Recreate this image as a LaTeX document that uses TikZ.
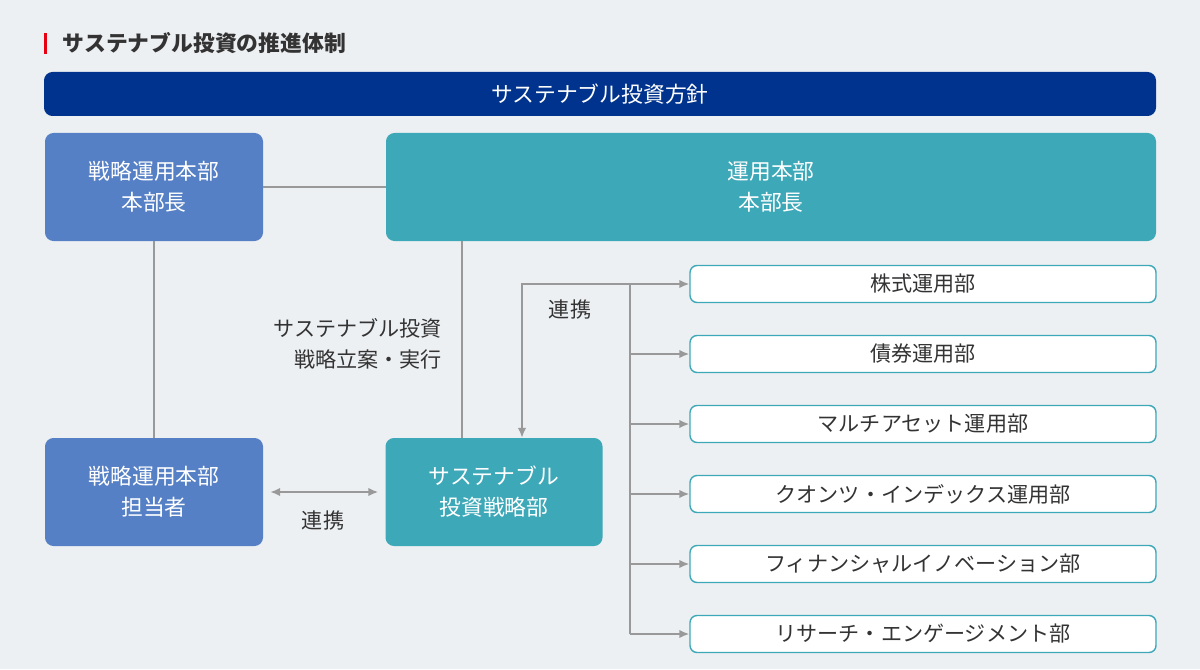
\documentclass[tikz,border=0pt]{standalone}
\usepackage{fontspec}
\setmainfont{Noto Sans CJK JP}
\usetikzlibrary{arrows.meta}
\definecolor{bg}{HTML}{EDF0F3}
\definecolor{navy}{HTML}{00338D}
\definecolor{blu}{HTML}{5680C5}
\definecolor{teal}{HTML}{3DA8B8}
\definecolor{ln}{HTML}{999999}
\definecolor{rd}{HTML}{E60012}
\definecolor{txt}{HTML}{333333}
\begin{document}
\begin{tikzpicture}[x=0.025cm,y=-0.025cm,
 box/.style={draw=none,rounded corners=6pt,text=white,align=center,font=\fontsize{15.5pt}{22pt}\selectfont},
 wbox/.style={draw=teal,line width=1pt,fill=white,rounded corners=5pt,text=txt,font=\fontsize{15pt}{16pt}\selectfont},
 con/.style={draw=ln,line width=1.2pt},
 arr/.style={con,-{Latex[length=7pt,width=6pt]}},
 lbl/.style={text=txt,font=\fontsize{15pt}{22pt}\selectfont}]
\fill[bg] (0,0) rectangle (1200,669);
\useasboundingbox (0,0) rectangle (1200,669);
\fill[rd] (44,33) rectangle (47,54);
\node[anchor=west,text=txt,font=\fontsize{15.5pt}{16pt}\selectfont\bfseries] (title) at (58,43) {サステナブル投資の推進体制};
\node[box,fill=navy,minimum width=1112*0.025cm,minimum height=44*0.025cm] (pol) at (600,94) {サステナブル投資方針};
\node[box,fill=blu,minimum width=218*0.025cm,minimum height=108*0.025cm] (sh) at (154,187) {戦略運用本部\\本部長};
\node[box,fill=teal,minimum width=770*0.025cm,minimum height=108*0.025cm] (uh) at (771,187) {運用本部\\本部長};
\node[box,fill=blu,minimum width=218*0.025cm,minimum height=108*0.025cm] (st) at (154,492) {戦略運用本部\\担当者};
\node[box,fill=teal,minimum width=217*0.025cm,minimum height=108*0.025cm] (sd) at (494,492) {サステナブル\\投資戦略部};
\foreach \n/\y/\t in {a/284/株式運用部,b/354/債券運用部,c/424/マルチアセット運用部,d/494/クオンツ・インデックス運用部,e/564/フィナンシャルイノベーション部,f/634/リサーチ・エンゲージメント部}{
 \node[wbox,minimum width=466*0.025cm,minimum height=37*0.025cm] (\n) at (923,\y) {\t};
 \coordinate (j\n) at (630,\y);
 \draw[arr] (j\n) -- (\n.west);
}
\draw[con] (sh.east) -- (uh.west|-sh.east);
\draw[con] (sh.south) -- (st.north);
\draw[con] (uh.south-|462,0) -- (sd.north-|462,0);
\draw[con] (ja) -- (jf);
\coordinate (k) at (522,284);
\draw[arr] (ja) -- (k) -- (sd.north-|k);
\draw[con,{Latex[length=7pt,width=6pt]}-{Latex[length=7pt,width=6pt]}] ([xshift=5pt]st.east) -- ([xshift=-5pt]sd.west);
\node[lbl] (l1) at (323,520) {連携};
\node[lbl] (l2) at (570,310) {連携};
\node[lbl,anchor=east,align=right] (l3) at (447,344) {サステナブル投資\\戦略立案・実行};
\end{tikzpicture}
\end{document}
